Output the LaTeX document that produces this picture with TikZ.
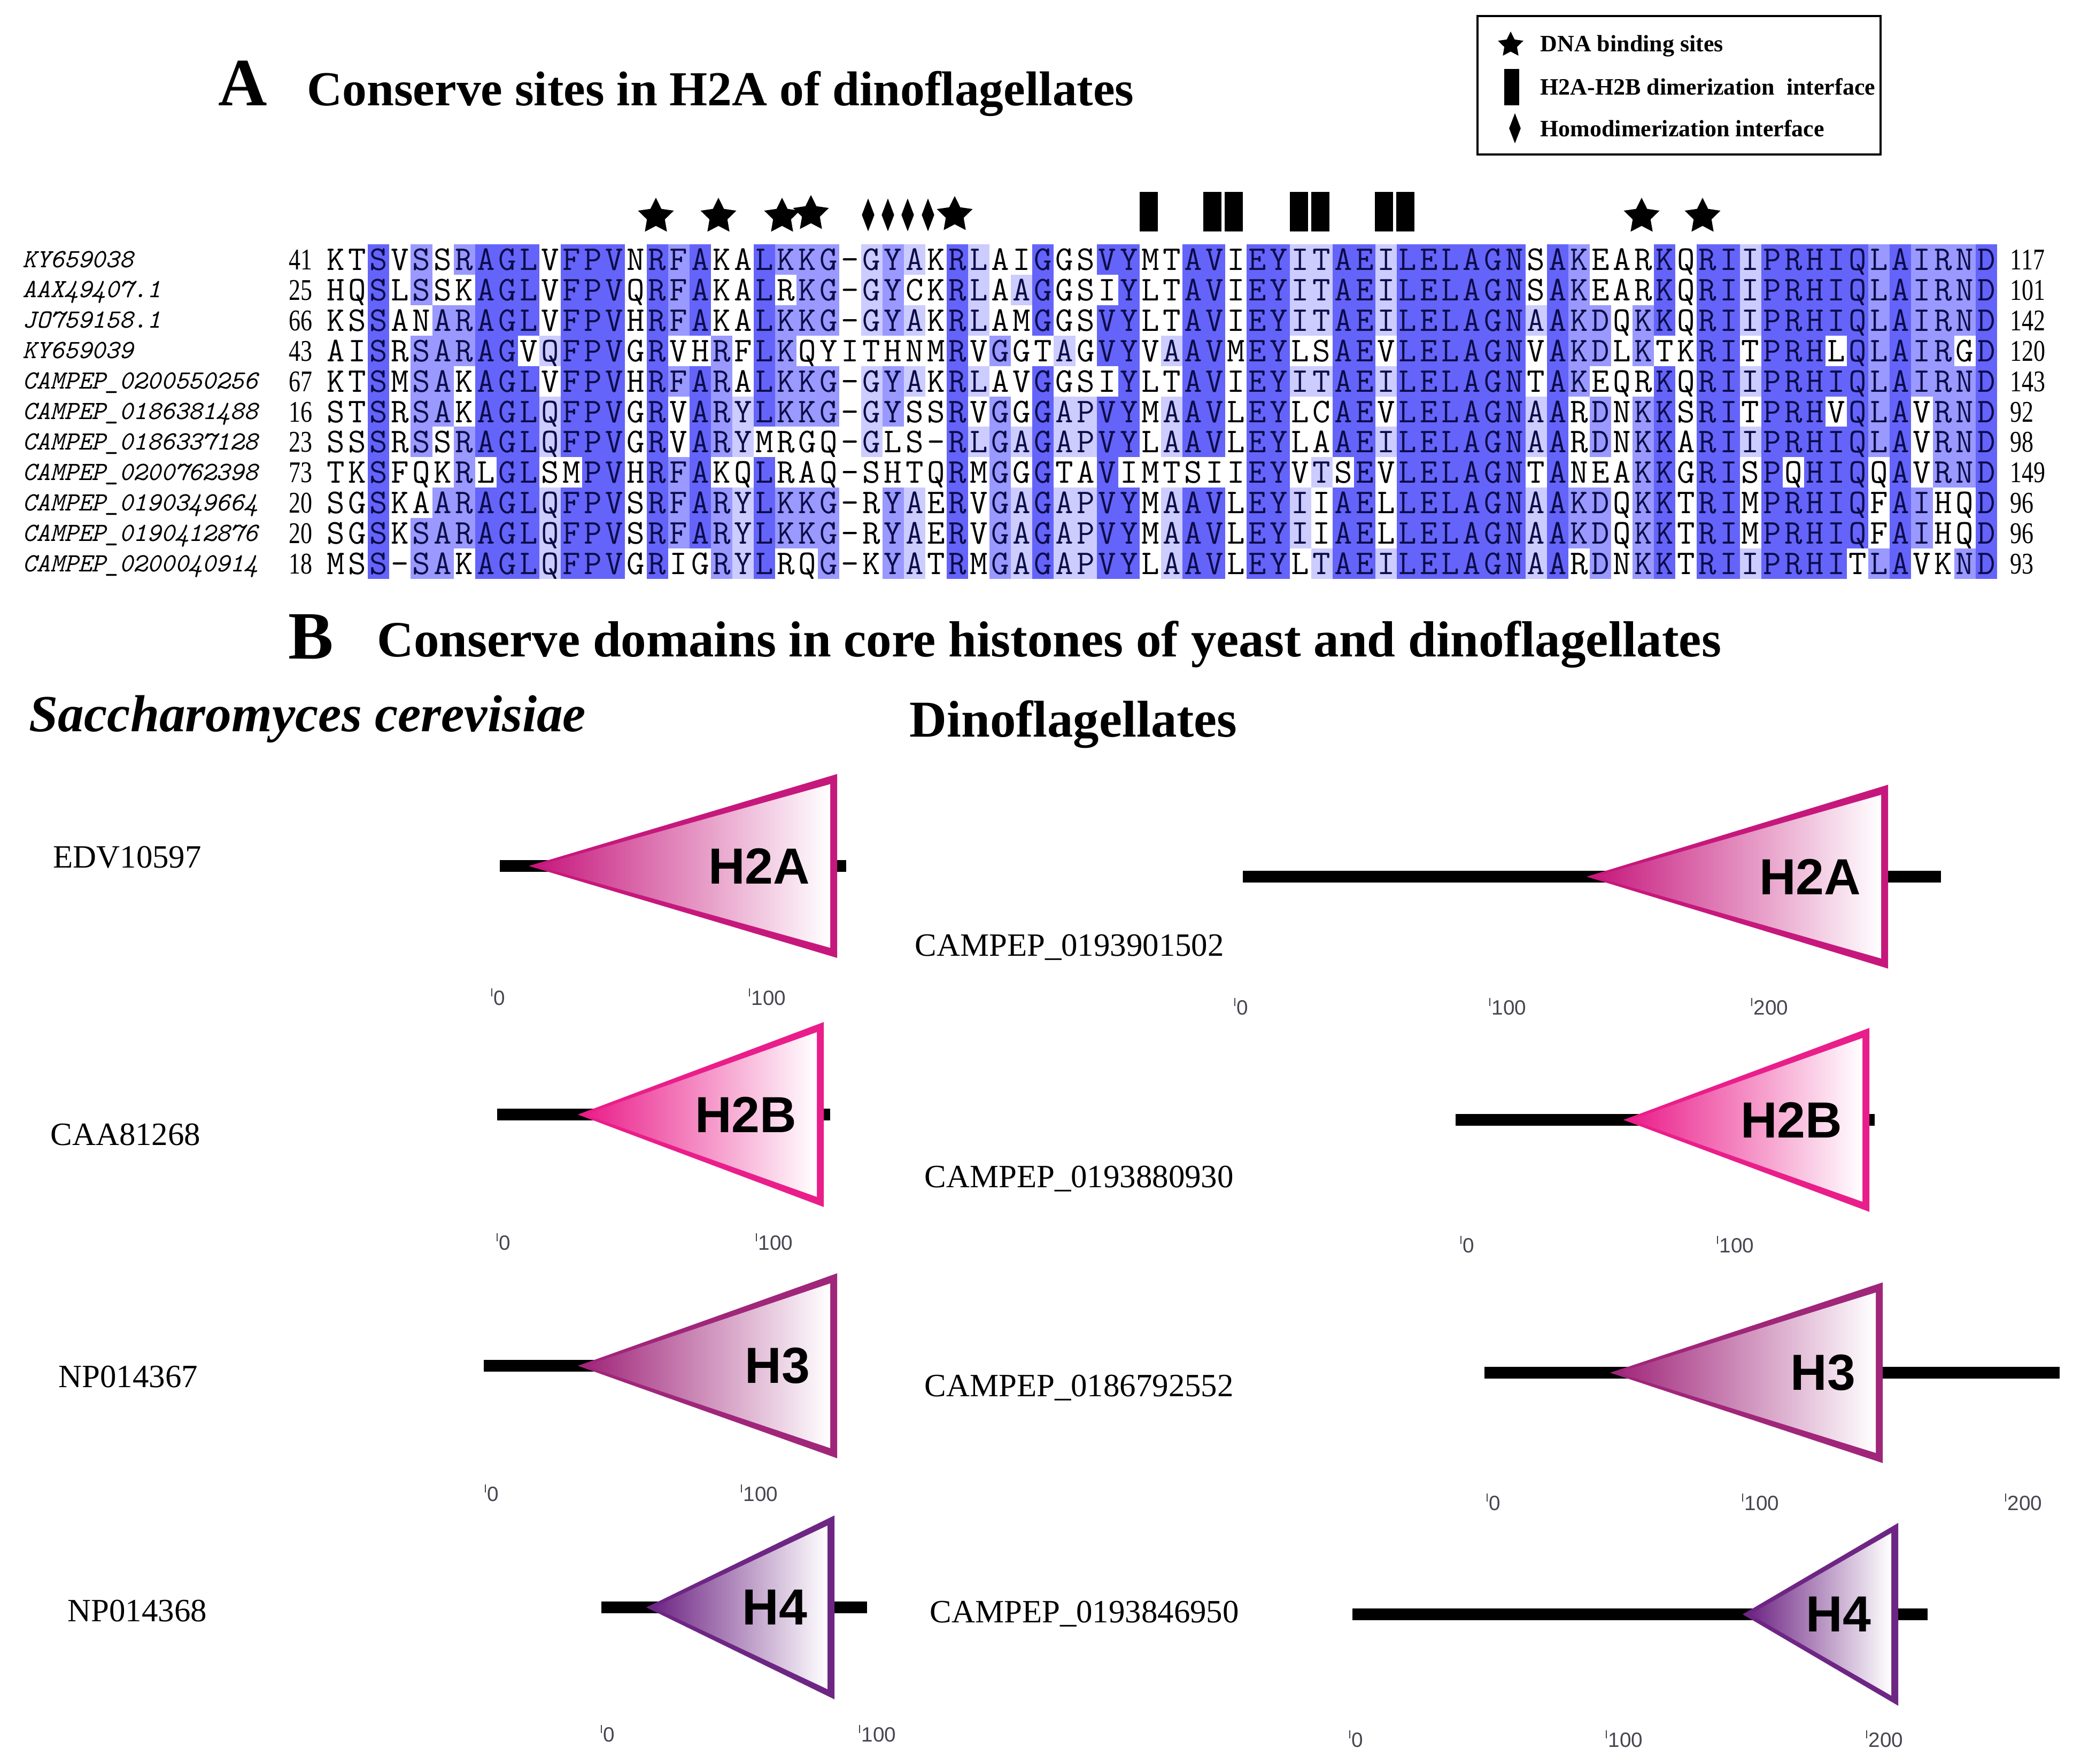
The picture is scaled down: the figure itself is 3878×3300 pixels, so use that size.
\documentclass[tikz,border=0pt]{standalone}
\usepackage{fontspec}
\setmainfont{Liberation Serif}
\newfontfamily\domfont{Liberation Sans}
\usetikzlibrary{shapes.geometric}

% percent identity shading
\definecolor{pid0}{RGB}{255,255,255}
\definecolor{pid1}{RGB}{204,204,255}
\definecolor{pid2}{RGB}{153,153,255}
\definecolor{pid3}{RGB}{100,100,250}
\definecolor{restxt}{RGB}{12,12,72}
% histone domains
\definecolor{hH2A}{RGB}{198,24,124}
\definecolor{hH2B}{RGB}{234,30,138}
\definecolor{hH3}{RGB}{160,38,122}
\definecolor{hH4}{RGB}{110,38,132}
\definecolor{rulegray}{RGB}{70,70,80}

% consensus residue and identity level of every column
\def\consres{STSRSARAGLQFPVGRFARYLKKG-GYAKRLGAGAPVYMAAVIEYITAEILELAGNAAKDQKKQRIIPRHIQLAIRND}
\def\conslev{003022233313330323213222012103121311330133033113313333331322023033133333232223}

\ExplSyntaxOn
\cs_new:Npn \resof #1#2 { \tl_item:Nn #1 {#2} }
\ExplSyntaxOff

\begin{document}
\begin{tikzpicture}[x=0.01cm, y=-0.01cm,
    heading/.style={anchor=base west, inner sep=0pt, font=\bfseries\fontsize{26}{30}\selectfont},
    seqname/.style={anchor=base west, inner sep=0pt, font=\ttfamily\itshape\fontsize{14}{16}\selectfont},
    seqnum/.style={inner sep=0pt, font=\fontsize{16}{18}\selectfont},
    resid/.style={anchor=base, inner sep=0pt, font=\ttfamily\fontsize{18.5}{20}\selectfont},
    dnastar/.style={star, star points=5, star point ratio=2.0, fill=black, inner sep=0pt, minimum size=20pt},
    dimbar/.style={rectangle, fill=black, inner sep=0pt, minimum width=9.7pt, minimum height=21pt},
    homodia/.style={diamond, fill=black, inner sep=0pt, minimum width=6.8pt, minimum height=17.6pt},
    legtext/.style={anchor=base west, inner sep=0pt, font=\bfseries\fontsize{12.5}{14}\selectfont},
    acc/.style={anchor=base west, inner sep=0pt, font=\fontsize{17.3}{20}\selectfont},
    backbone/.style={line width=6.3pt},
    domlab/.style={anchor=east, inner sep=0pt, font=\domfont\bfseries\fontsize{27}{30}\selectfont},
    rulerlab/.style={anchor=west, inner sep=0pt, text=rulegray, font=\domfont\fontsize{11}{12}\selectfont},
    rulertick/.style={draw=rulegray, line width=0.5pt}
]
    \fill[white] (0,0) rectangle (3878,3300);
    \useasboundingbox (0,0) rectangle (3878,3300);

    % Panel A headings
    \node[heading, font=\bfseries\fontsize{36}{40}\selectfont] (labA) at (408,198) {A};
    \node[heading] (titleA) at (574,198) {Conserve sites in H2A of dinoflagellates};

    % Legend
    \draw[line width=1.1pt] (2764,30) rectangle (3518,289);
    \node[dnastar, minimum size=14.2pt] (legstar) at (2826,84) {};
    \node[dimbar, minimum width=7.7pt, minimum height=19.6pt] (legbar) at (2828,163) {};
    \node[homodia, minimum width=6.3pt, minimum height=16.2pt] (legdia) at (2834,240) {};
    \node[legtext] (legstar-t) at (2881,97) {DNA binding sites};
    \node[legtext] (legbar-t) at (2881,178) {H2A-H2B dimerization~ interface};
    \node[legtext] (legdia-t) at (2881,255) {Homodimerization interface};

    % Site markers above the alignment
    \foreach \xm/\ym in {1227/405,1344/405,1463/405,1517/400,1786/402,3071/405,3185/405}
        \node[dnastar] (star\xm) at (\xm,\ym) {};
    \foreach \xm in {1624,1661,1698,1736}
        \node[homodia] (dia\xm) at (\xm,402) {};
    \foreach \xm in {2149,2268,2308,2430,2470,2589,2629}
        \node[dimbar] (bar\xm) at (\xm,396) {};

    % Alignment
    \foreach \nm/\st/\en/\aln [count=\rw] in {
        KY659038/41/117/KTSVSSRAGLVFPVNRFAKALKKG-GYAKRLAIGGSVYMTAVIEYITAEILELAGNSAKEARKQRIIPRHIQLAIRND,
        AAX49407.1/25/101/HQSLSSKAGLVFPVQRFAKALRKG-GYCKRLAAGGSIYLTAVIEYITAEILELAGNSAKEARKQRIIPRHIQLAIRND,
        JO759158.1/66/142/KSSANARAGLVFPVHRFAKALKKG-GYAKRLAMGGSVYLTAVIEYITAEILELAGNAAKDQKKQRIIPRHIQLAIRND,
        KY659039/43/120/AISRSARAGVQFPVGRVHRFLKQYITHNMRVGGTAGVYVAAVMEYLSAEVLELAGNVAKDLKTKRITPRHLQLAIRGD,
        CAMPEP\_0200550256/67/143/KTSMSAKAGLVFPVHRFARALKKG-GYAKRLAVGGSIYLTAVIEYITAEILELAGNTAKEQRKQRIIPRHIQLAIRND,
        CAMPEP\_0186381488/16/92/STSRSAKAGLQFPVGRVARYLKKG-GYSSRVGGGAPVYMAAVLEYLCAEVLELAGNAARDNKKSRITPRHVQLAVRND,
        CAMPEP\_0186337128/23/98/SSSRSSRAGLQFPVGRVARYMRGQ-GLS-RLGAGAPVYLAAVLEYLAAEILELAGNAARDNKKARIIPRHIQLAVRND,
        CAMPEP\_0200762398/73/149/TKSFQKRLGLSMPVHRFAKQLRAQ-SHTQRMGGGTAVIMTSIIEYVTSEVLELAGNTANEAKKGRISPQHIQQAVRND,
        CAMPEP\_0190349664/20/96/SGSKAARAGLQFPVSRFARYLKKG-RYAERVGAGAPVYMAAVLEYIIAELLELAGNAAKDQKKTRIMPRHIQFAIHQD,
        CAMPEP\_0190412876/20/96/SGSKSARAGLQFPVSRFARYLKKG-RYAERVGAGAPVYMAAVLEYIIAELLELAGNAAKDQKKTRIMPRHIQFAIHQD,
        CAMPEP\_0200040914/18/93/MSS-SAKAGLQFPVGRIGRYLRQG-KYATRMGAGAPVYLAAVLEYLTAEILELAGNAARDNKKTRIIPRHITLAVKND}{
        \pgfmathsetmacro{\yrow}{457+56.9*(\rw-1)}
        \node[seqname] (name\rw) at (42,\yrow+43) {\nm};
        \node[seqnum, anchor=base east] (start\rw) at (585,\yrow+47.5) {\scalebox{0.78}[1]{\st}};
        \node[seqnum, anchor=base west] (end\rw) at (3760,\yrow+47.5) {\scalebox{0.78}[1]{\en}};
        \foreach \col in {1,...,78}{
            \edef\res{\resof\aln{\col}}
            \edef\cres{\resof\consres{\col}}
            \edef\lev{\resof\conslev{\col}}
            \ifx\res\cres\else\def\lev{0}\fi
            \ifnum\lev>0 \def\tcol{restxt}\else\def\tcol{black}\fi
            \pgfmathsetmacro{\xcol}{608+40.1*(\col-1)}
            \fill[pid\lev] (\xcol,\yrow) rectangle ++(40.6,57.4);
            \node[resid, text=\tcol] (r\rw-\col) at (\xcol+20.05,\yrow+48.5) {\res};
        }
    }

    % Panel B headings
    \node[heading, font=\bfseries\fontsize{36}{40}\selectfont] (labB) at (539,1232) {B};
    \node[heading, font=\bfseries\fontsize{27}{30}\selectfont] (titleB) at (705,1228) {Conserve domains in core histones of yeast and dinoflagellates};
    \node[heading, font=\bfseries\itshape\fontsize{27.7}{32}\selectfont] (yeast) at (54,1368) {Saccharomyces cerevisiae};
    \node[heading, font=\bfseries\fontsize{27.5}{32}\selectfont] (dino) at (1701,1378) {Dinoflagellates};

    % Accession labels
    \node[acc] (acc1) at (99,1623) {EDV10597};
    \node[acc] (acc2) at (94,2142) {CAA81268};
    \node[acc] (acc3) at (109,2595) {NP014367};
    \node[acc] (acc4) at (126,3033) {NP014368};
    \node[acc] (acc5) at (1711,1788) {CAMPEP\_0193901502};
    \node[acc] (acc6) at (1729,2221) {CAMPEP\_0193880930};
    \node[acc] (acc7) at (1729,2612) {CAMPEP\_0186792552};
    \node[acc] (acc8) at (1739,3035) {CAMPEP\_0193846950};

    % Domain diagrams
    \foreach \ls/\le/\yc/\xa/\xr/\hh/\hc/\lab [count=\d] in {
        935/1583/1620/989/1566/172/hH2A/H2A,
        930/1553/2085/1081/1541/173/hH2B/H2B,
        905/1566/2555/1081/1566/173/hH3/H3,
        1125/1622/3007/1209/1561/172/hH4/H4,
        2325/3631/1640/2968/3532/172/hH2A/H2A,
        2723/3507/2095/3037/3497/172/hH2B/H2B,
        2777/3853/2568/3012/3522/169/hH3/H3,
        2530/3606/3020/3260/3551/171/hH4/H4}{
        \draw[backbone] (\ls,\yc) -- (\le,\yc);
        \fill[\hc] (\xa,\yc) -- (\xr,\yc-\hh) -- (\xr,\yc+\hh) -- cycle;
        \shade[left color=\hc, right color=white] (\xa+14,\yc) -- (\xr-13,\yc-\hh+19) -- (\xr-13,\yc+\hh-19) -- cycle;
        \node[domlab] (dom\d) at (\xr-50,\yc) {\lab};
    }

    % Rulers
    \foreach \xt/\yt/\num in {920/1867/0, 1402/1867/100, 930/2325/0, 1415/2325/100,
        908/2795/0, 1387/2795/100, 1125/3245/0, 1608/3245/100,
        2310/1885/0, 2787/1885/100, 3277/1885/200, 2733/2330/0, 3213/2330/100,
        2782/2812/0, 3260/2812/100, 3752/2812/200, 2525/3255/0, 3005/3255/100, 3492/3255/200}{
        \draw[rulertick] (\xt,\yt-18) -- (\xt,\yt-3);
        \node[rulerlab] (tick\xt) at (\xt+3,\yt) {\num};
    }
\end{tikzpicture}
\end{document}
